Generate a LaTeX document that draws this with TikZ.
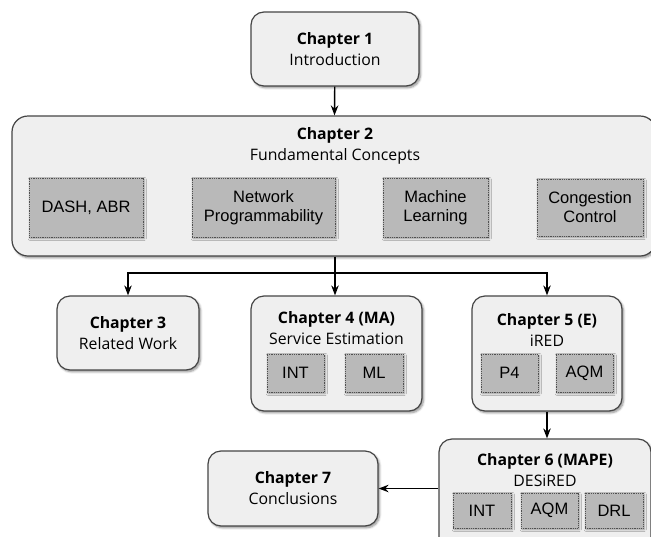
\documentclass[tikz,border=0pt]{standalone}
\usepackage{fontspec}
\setmainfont{Liberation Sans}
\newfontfamily\headfont{Open Sans}
\usetikzlibrary{arrows.meta,shadows.blur}

\definecolor{boxfill}{HTML}{EFEFEF}
\definecolor{boxline}{HTML}{454545}
\definecolor{topicfill}{HTML}{B9B9B9}
\definecolor{topicline}{HTML}{505050}

\tikzset{
  chapbox/.style={draw=boxline, line width=1.2pt, fill=boxfill, rounded corners=13pt,
    blur shadow={shadow xshift=1.6pt, shadow yshift=-1.8pt, shadow blur steps=6, shadow opacity=45},
    inner sep=0pt, align=center, font=\headfont\fontsize{15.8}{21}\selectfont},
  topic/.style={draw=topicline, densely dotted, line width=0.8pt, fill=topicfill,
    blur shadow={shadow xshift=1.2pt, shadow yshift=-1.4pt, shadow blur steps=4, shadow opacity=40},
    inner sep=0pt, align=center, font=\fontsize{16.5}{19}\selectfont},
  headtext/.style={inner sep=0pt, align=center, font=\headfont\fontsize{15.8}{21}\selectfont},
  flow/.style={line width=1.4pt, -{Stealth[length=10pt,width=7.5pt]}}
}

\begin{document}
\begin{tikzpicture}[x=1pt,y=-1pt]
\useasboundingbox (0,0) rectangle (651,536);
\clip (0,0) rectangle (651,536);

% Chapter 1
\node[chapbox, minimum width=168pt, minimum height=74pt] (c1) at (335,49)
  {\textbf{Chapter 1}\\Introduction};

% Chapter 2 with its four topics
\node[chapbox, rounded corners=16pt, minimum width=644pt, minimum height=140pt] (c2) at (334,186) {};
\node[headtext] (c2t) at (335,146) {\textbf{Chapter 2}\\Fundamental Concepts};
\node[topic, minimum width=114pt, minimum height=59pt] (dash) at (86,207.5) {DASH, ABR};
\node[topic, minimum width=143pt, minimum height=59pt] (np) at (263.5,207.5) {Network\\Programmability};
\node[topic, minimum width=105pt, minimum height=59pt] (ml) at (435.5,207.5) {Machine\\Learning};
\node[topic, minimum width=106pt, minimum height=57pt] (cc) at (590,207.5) {Congestion\\Control};

% Chapter 3
\node[chapbox, minimum width=142pt, minimum height=74pt] (c3) at (128,333)
  {\textbf{Chapter 3}\\Related Work};

% Chapter 4
\node[chapbox, minimum width=171pt, minimum height=115pt] (c4) at (336.5,353.5) {};
\node[headtext] (c4t) at (336.5,328) {\textbf{Chapter 4 (MA)}\\Service Estimation};
\node[topic, minimum width=57pt, minimum height=38pt] (c4a) at (295.5,373) {INT};
\node[topic, minimum width=58pt, minimum height=38pt] (c4b) at (374,373) {ML};

% Chapter 5
\node[chapbox, minimum width=150pt, minimum height=115pt] (c5) at (547,353.5) {};
\node[headtext] (c5t) at (547,330) {\textbf{Chapter 5 (E)}\\iRED};
\node[topic, minimum width=57pt, minimum height=38pt] (c5a) at (509.5,373) {P4};
\node[topic, minimum width=57pt, minimum height=38pt] (c5b) at (584.5,373) {AQM};

% Chapter 6
\node[chapbox, minimum width=212pt, minimum height=115pt] (c6) at (545,496.5) {};
\node[headtext] (c6t) at (545,470.5) {\textbf{Chapter 6 (MAPE)}\\DESiRED};
\node[topic, minimum width=58pt, minimum height=35pt] (c6a) at (482,510.5) {INT};
\node[topic, minimum width=57pt, minimum height=35pt] (c6b) at (549.5,510.5) {AQM};
\node[topic, minimum width=58pt, minimum height=35pt] (c6c) at (614,510.5) {DRL};

% Chapter 7
\node[chapbox, minimum width=170pt, minimum height=75pt] (c7) at (293,488.5)
  {\textbf{Chapter 7}\\Conclusions};

% Reading order
\coordinate (split) at (335,273);
\draw[flow] (c1) -- (c2);
\draw[line width=1.4pt] (c2.south -| split) -- (split);
\draw[flow] (split) -| (c3.north);
\draw[flow] (split) -- (split |- c4.north);
\draw[flow] (split) -| (c5.north);
\draw[flow] (c5.south) -- (c5.south |- c6.north);
\draw[flow] (c6.west |- c7.east) -- (c7.east);
\end{tikzpicture}
\end{document}
